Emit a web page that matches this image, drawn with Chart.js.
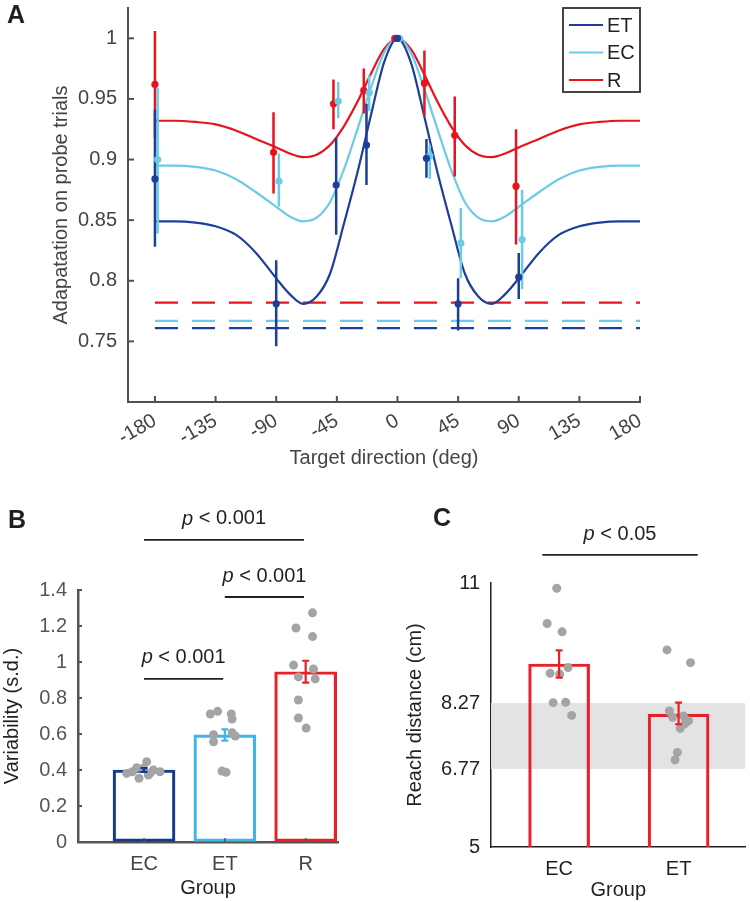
<!DOCTYPE html>
<html>
<head>
<meta charset="utf-8">
<script src="https://cdn.jsdelivr.net/npm/chart.js@4.4.1/dist/chart.umd.min.js"></script>
<style>
  body { margin: 0; background: #fff; }
  #wrap { position: relative; width: 750px; height: 902px; overflow: hidden; background: #fff;
          font-family: "Liberation Sans", Arial, Helvetica, sans-serif; }
  canvas { position: absolute; }
  .panel { position: absolute; font-weight: bold; font-size: 25px; line-height: 25px; color: #231f20; }
</style>
</head>
<body>
<div id="wrap">
  <canvas id="cA" width="660" height="480" style="left:0;top:0"></canvas>
  <canvas id="cB" width="400" height="422" style="left:0;top:480px"></canvas>
  <canvas id="cC" width="350" height="422" style="left:400px;top:480px"></canvas>
  <div class="panel" style="left:7px;top:2px">A</div>
  <div class="panel" style="left:8px;top:507px">B</div>
  <div class="panel" style="left:433px;top:505px">C</div>
</div>
<script>
// ---------------- Panel A data ----------------
const seriesNames = ['ET', 'EC', 'R'];
const xTickValuesA = [-180, -135, -90, -45, 0, 45, 90, 135, 180];
const yTickValuesA = [0.75, 0.8, 0.85, 0.9, 0.95, 1];
const yTickLabelsA = ['0.75', '0.8', '0.85', '0.9', '0.95', '1'];

// fitted tuning curves
const fitDirs = [-180,-165,-150,-135,-120,-105,-90,-80,-70,-60,-50,-40,-30,-20,-10,0,10,20,30,40,50,60,70,80,90,105,120,135,150,165,180];
const etFit = [0.849,0.849,0.848,0.845,0.838,0.823,0.802,0.789,0.781,0.787,0.806,0.846,0.888,0.935,0.980,1.000,0.980,0.935,0.888,0.846,0.806,0.787,0.781,0.789,0.802,0.823,0.838,0.845,0.848,0.849,0.849];
const ecFit = [0.895,0.895,0.894,0.891,0.884,0.873,0.861,0.853,0.849,0.852,0.865,0.891,0.924,0.958,0.988,1.000,0.988,0.958,0.924,0.891,0.865,0.852,0.849,0.853,0.861,0.873,0.884,0.891,0.894,0.895,0.895];
const rFit  = [0.932,0.932,0.931,0.929,0.924,0.917,0.910,0.905,0.902,0.904,0.912,0.927,0.947,0.970,0.991,1.000,0.991,0.970,0.947,0.927,0.912,0.904,0.902,0.905,0.910,0.917,0.924,0.929,0.931,0.932,0.932];

// dashed reference levels (ET, EC, R)
const dashedLevels = [0.761, 0.767, 0.782];

// measured points (x slightly offset per group as in the figure)
const etX    = [-180, -90, -45.5, -23, 0, 21.5, 45, 90];
const etMean = [0.884, 0.781, 0.879, 0.912, 1.000, 0.901, 0.781, 0.803];
const etLo   = [0.828, 0.746, 0.838, 0.879, 1.000, 0.885, 0.759, 0.785];
const etHi   = [0.941, 0.817, 0.918, 0.946, 1.000, 0.917, 0.802, 0.823];

const ecX    = [-178, -88, -44, -21, 1.5, 24, 47, 92.5];
const ecMean = [0.900, 0.882, 0.948, 0.955, 1.000, 0.903, 0.831, 0.834];
const ecLo   = [0.839, 0.861, 0.934, 0.940, 1.000, 0.884, 0.802, 0.793];
const ecHi   = [0.959, 0.905, 0.964, 0.970, 1.000, 0.912, 0.860, 0.875];

const rX     = [-180, -92, -47.5, -25, -2, 20, 42.5, 88];
const rMean  = [0.962, 0.906, 0.946, 0.957, 1.000, 0.963, 0.920, 0.878];
const rLo    = [0.918, 0.872, 0.925, 0.938, 1.000, 0.936, 0.886, 0.830];
const rHi    = [1.006, 0.939, 0.966, 0.975, 1.000, 0.990, 0.952, 0.925];

// ---------------- Panel B data ----------------
const groupsB = ['EC', 'ET', 'R'];
const meanB = [0.40, 0.595, 0.946];
const errLoB = [0.39, 0.563, 0.885];
const errHiB = [0.41, 0.626, 1.007];
const yTickValuesB = [0, 0.2, 0.4, 0.6, 0.8, 1, 1.2, 1.4];
const yTickLabelsB = ['0', '0.2', '0.4', '0.6', '0.8', '1', '1.2', '1.4'];
const dotsBx = [1.033,0.91,0.786,0.938,1.074,1.115,1.198,0.99,0.855,1.053,
                1.82,1.91,2.08,2.09,1.86,1.86,2.13,2.09,1.965,2.015,
                3.085,2.88,3.085,2.85,3.097,2.91,3.118,2.91,2.91,3.006];
const dotsBy = [0.446,0.413,0.381,0.354,0.381,0.40,0.39,0.41,0.39,0.372,
                0.711,0.726,0.711,0.683,0.596,0.557,0.589,0.607,0.394,0.387,
                1.273,1.189,1.141,0.983,0.961,0.917,0.906,0.789,0.689,0.633];
// significance brackets: [from, to, height, text]
const bracketsB = [[1, 2.98, 1.678, '< 0.001'], [2, 2.98, 1.361, '< 0.001'], [1, 1.98, 0.906, '< 0.001']];

// ---------------- Panel C data ----------------
const groupsC = ['EC', 'ET'];
const meanC = [9.16, 8.02];
const errLoC = [8.85, 7.79];
const errHiC = [9.47, 8.28];
const yTickValuesC = [5, 6.77, 8.27, 11];
const yTickLabelsC = ['5', '6.77', '8.27', '11'];
const bandC = [6.77, 8.27];
const dotsCx = [0.98,0.90,1.025,1.075,0.925,1.005,0.95,1.055,1.105,
                1.903,2.10,1.923,1.95,2.04,2.083,2.052,2.014,1.99,1.97];
const dotsCy = [10.88,10.08,9.89,9.08,8.95,8.93,8.28,8.29,7.99,
                9.48,9.19,8.09,7.95,7.98,7.87,7.80,7.70,7.15,6.98];
const bracketsC = [[0.86, 2.16, 11.64, '< 0.05']];

// ---------------- styling ----------------
const FONT = '"Liberation Sans", Arial, Helvetica, sans-serif';
Chart.defaults.font.family = FONT;
Chart.defaults.font.size = 20;
Chart.defaults.animation = false;
Chart.defaults.plugins.legend.display = false;
Chart.defaults.plugins.tooltip.enabled = false;

const C_ET = '#1d3f9b', C_EC = '#6ccbe6', C_R = '#e6141f';
const GRAY_DOT = '#a4a4a4';

function errData(xs, lo, hi, cap) {
  const d = [];
  xs.forEach((x, i) => {
    if (cap) d.push({x: x - cap, y: hi[i]}, {x: x + cap, y: hi[i]}, {x: x, y: null});
    d.push({x: x, y: lo[i]}, {x: x, y: hi[i]}, {x: x, y: null});
    if (cap) d.push({x: x - cap, y: lo[i]}, {x: x + cap, y: lo[i]}, {x: x, y: null});
  });
  return d;
}
const pts = (xs, ys) => xs.map((x, i) => ({x: x, y: ys[i]}));

function makeInward(axes) {
  return {
    id: 'inward' + Math.random().toString(36).slice(2),
    afterDraw(chart) {
      const ctx = chart.ctx, ca = chart.chartArea;
      axes.forEach(a => {
        const s = chart.scales[a.id];
        ctx.save(); ctx.strokeStyle = a.color; ctx.lineWidth = a.width;
        s.ticks.forEach((t, i) => {
          const p = s.getPixelForTick(i);
          ctx.beginPath();
          if (s.isHorizontal()) { ctx.moveTo(p, ca.bottom); ctx.lineTo(p, ca.bottom - a.len); }
          else { ctx.moveTo(ca.left, p); ctx.lineTo(ca.left + a.len, p); }
          ctx.stroke();
        });
        ctx.restore();
      });
    }
  };
}

function makeSig(items, color, lift) {
  return {
    id: 'sig' + Math.random().toString(36).slice(2),
    afterDraw(chart) {
      const ctx = chart.ctx, sx = chart.scales.x, sy = chart.scales.y;
      ctx.save();
      ctx.fillStyle = color; ctx.textBaseline = 'middle';
      items.forEach(b => {
        const cx = (sx.getPixelForValue(b[0]) + sx.getPixelForValue(b[1])) / 2;
        const cy = sy.getPixelForValue(b[2]) - lift;
        ctx.font = 'italic 20px ' + FONT;
        const wp = ctx.measureText('p').width;
        ctx.font = '20px ' + FONT;
        const rest = ' ' + b[3];
        const wr = ctx.measureText(rest).width;
        const x0 = cx - (wp + wr) / 2;
        ctx.textAlign = 'left';
        ctx.font = 'italic 20px ' + FONT;
        ctx.fillText('p', x0, cy);
        ctx.font = '20px ' + FONT;
        ctx.fillText(rest, x0 + wp, cy);
      });
      ctx.restore();
    }
  };
}

const boxLegendA = {
  id: 'boxLegendA',
  afterDraw(chart) {
    const ctx = chart.ctx, ca = chart.chartArea;
    const items = chart.data.datasets.filter(d => d.legendEntry);
    const w = 77, h = 84, x = ca.right - w, y = ca.top;
    ctx.save();
    ctx.fillStyle = '#fff'; ctx.fillRect(x, y, w, h);
    ctx.strokeStyle = '#444'; ctx.lineWidth = 2; ctx.strokeRect(x, y, w, h);
    ctx.font = '20px ' + FONT; ctx.textBaseline = 'middle'; ctx.textAlign = 'left';
    items.forEach((d, i) => {
      const cy = y + 17 + i * 27.5;
      ctx.strokeStyle = d.borderColor; ctx.lineWidth = 2.2;
      ctx.beginPath(); ctx.moveTo(x + 6, cy); ctx.lineTo(x + 40, cy); ctx.stroke();
      ctx.fillStyle = '#231f20';
      ctx.fillText(d.label, x + 44, cy + 1);
    });
    ctx.restore();
  }
};

// ---------------- Chart A ----------------
const colsA = [C_ET, C_EC, C_R];
const fitsA = [etFit, ecFit, rFit];
const xsA = [etX, ecX, rX], meansA = [etMean, ecMean, rMean], losA = [etLo, ecLo, rLo], hisA = [etHi, ecHi, rHi];
const dsA = [];
seriesNames.forEach((n, k) => {
  dsA.push({type: 'line', label: n, legendEntry: true, data: pts(fitDirs, fitsA[k]), borderColor: colsA[k],
            borderWidth: 2.2, pointRadius: 0, cubicInterpolationMode: 'monotone', fill: false, order: 5});
});
seriesNames.forEach((n, k) => {
  dsA.push({type: 'line', label: n + ' level', data: [{x: xTickValuesA[0], y: dashedLevels[k]}, {x: xTickValuesA[xTickValuesA.length - 1], y: dashedLevels[k]}],
            borderColor: colsA[k], borderWidth: 2.2, borderDash: [23, 14], pointRadius: 0, fill: false, order: 6});
});
seriesNames.forEach((n, k) => {
  dsA.push({type: 'line', label: n + ' err', data: errData(xsA[k], losA[k], hisA[k], 0), borderColor: colsA[k],
            borderWidth: 2.5, pointRadius: 0, spanGaps: false, fill: false, order: 2});
  dsA.push({type: 'scatter', label: n + ' mean', data: pts(xsA[k], meansA[k]), backgroundColor: colsA[k],
            pointRadius: 3.6, pointBorderWidth: 0, order: 1});
});

new Chart(document.getElementById('cA'), {
  type: 'line',
  data: {datasets: dsA},
  options: {
    responsive: false, animation: false,
    layout: {padding: {top: 8, right: 20, left: 0, bottom: 0}},
    scales: {
      x: {
        type: 'linear', min: -200, max: 180, offset: false,
        afterBuildTicks: s => { s.ticks = xTickValuesA.map(v => ({value: v})); },
        afterFit: s => { s.height = 78; s.paddingLeft = 0; s.paddingRight = 0; },
        grid: {drawOnChartArea: false, drawTicks: false},
        border: {color: '#505050', width: 2},
        ticks: {color: '#444', padding: 7, maxRotation: 30, minRotation: 30, autoSkip: false,
                callback: (v) => String(v), font: {size: 20}},
        title: {display: true, text: 'Target direction (deg)', color: '#444', font: {size: 20}, padding: {top: 0, bottom: 10}}
      },
      y: {
        type: 'linear', min: 0.7, max: 1.025,
        afterBuildTicks: s => { s.ticks = yTickValuesA.map(v => ({value: v})); },
        afterFit: s => { s.width = 128; s.paddingTop = 0; s.paddingBottom = 0; },
        grid: {drawOnChartArea: false, drawTicks: false},
        border: {color: '#505050', width: 2},
        ticks: {color: '#444', padding: 11, font: {size: 20},
                callback: (v, i) => yTickLabelsA[i]},
        title: {display: true, text: 'Adapatation on probe trials', color: '#444', font: {size: 20}, padding: {top: 49, bottom: 0}}
      }
    }
  },
  plugins: [makeInward([{id: 'x', len: 6, color: '#505050', width: 2}, {id: 'y', len: 6, color: '#505050', width: 2}]), boxLegendA]
});

// ---------------- Chart B ----------------
const colsB = ['#15398c', '#3fb6ea', '#e8202a'];
const dsB = [
  {type: 'bar', label: 'Variability', data: groupsB.map((g, i) => ({x: i + 1, y: meanB[i]})),
   backgroundColor: 'rgba(255,255,255,0)', borderColor: colsB, borderWidth: 2.5, borderSkipped: false,
   barThickness: 62, order: 3},
  {type: 'scatter', label: 'subjects', data: pts(dotsBx, dotsBy), backgroundColor: GRAY_DOT,
   pointRadius: 4.5, pointBorderWidth: 0, order: 2}
];
groupsB.forEach((g, i) => {
  dsB.push({type: 'line', label: g + ' sem', data: errData([i + 1], [errLoB[i]], [errHiB[i]], 0.043),
            borderColor: colsB[i], borderWidth: 2.2, pointRadius: 0, spanGaps: false, fill: false, order: 1});
});
bracketsB.forEach((b, i) => {
  dsB.push({type: 'line', label: 'bracket' + i, data: [{x: b[0], y: b[2]}, {x: b[1], y: b[2]}],
            borderColor: '#231f20', borderWidth: 1.8, pointRadius: 0, fill: false, clip: false, order: 0});
});

new Chart(document.getElementById('cB'), {
  type: 'bar',
  data: {datasets: dsB},
  options: {
    responsive: false, animation: false,
    layout: {padding: {top: 110, right: 62, left: 0, bottom: 0}},
    scales: {
      x: {
        type: 'linear', min: 0.183, max: 3.40, offset: false,
        afterBuildTicks: s => { s.ticks = groupsB.map((g, i) => ({value: i + 1})); },
        afterFit: s => { s.height = 60; },
        grid: {drawOnChartArea: false, drawTicks: false},
        border: {color: '#555', width: 2.5},
        ticks: {color: '#444', padding: 10, maxRotation: 0, autoSkip: false, font: {size: 20},
                callback: (v, i) => groupsB[i]},
        title: {display: true, text: 'Group', color: '#231f20', font: {size: 20}, padding: {top: 0, bottom: 2}}
      },
      y: {
        type: 'linear', min: 0, max: 1.4,
        afterBuildTicks: s => { s.ticks = yTickValuesB.map(v => ({value: v})); },
        afterFit: s => { s.width = 78; },
        grid: {drawOnChartArea: false, drawTicks: false},
        border: {color: '#555', width: 2.5},
        ticks: {color: '#555', padding: 11, font: {size: 20}, callback: (v, i) => yTickLabelsB[i]},
        title: {display: true, text: 'Variability (s.d.)', color: '#231f20', font: {size: 20}, padding: {top: 0, bottom: 0}}
      }
    }
  },
  plugins: [makeInward([{id: 'y', len: 4, color: '#555', width: 2}, {id: 'x', len: 4, color: '#555', width: 1.5}]),
            makeSig(bracketsB, '#231f20', 21)]
});

// ---------------- Chart C ----------------
const xMinC = 0.43, xMaxC = 2.56;
const dsC = [
  {type: 'line', label: 'range', data: [{x: xMinC, y: bandC[1]}, {x: xMaxC, y: bandC[1]}],
   borderWidth: 0, borderColor: 'rgba(0,0,0,0)', pointRadius: 0, backgroundColor: '#e3e3e3',
   fill: {value: bandC[0]}, order: 5},
  {type: 'bar', label: 'Reach distance', data: groupsC.map((g, i) => ({x: i + 1, y: meanC[i]})),
   backgroundColor: 'rgba(255,255,255,0)', borderColor: '#e8202a', borderWidth: 2.5, borderSkipped: false,
   barThickness: 61, order: 3},
  {type: 'scatter', label: 'subjects', data: pts(dotsCx, dotsCy), backgroundColor: GRAY_DOT,
   pointRadius: 4.5, pointBorderWidth: 0, order: 2},
  {type: 'line', label: 'sem', data: errData(groupsC.map((g, i) => i + 1), errLoC, errHiC, 0.029),
   borderColor: '#e8202a', borderWidth: 2.2, pointRadius: 0, spanGaps: false, fill: false, order: 1}
];
bracketsC.forEach((b, i) => {
  dsC.push({type: 'line', label: 'bracket' + i, data: [{x: b[0], y: b[2]}, {x: b[1], y: b[2]}],
            borderColor: '#231f20', borderWidth: 1.8, pointRadius: 0, fill: false, clip: false, order: 0});
});

new Chart(document.getElementById('cC'), {
  type: 'bar',
  data: {datasets: dsC},
  options: {
    responsive: false, animation: false,
    layout: {padding: {top: 103, right: 1, left: 0, bottom: 0}},
    scales: {
      x: {
        type: 'linear', min: xMinC, max: xMaxC, offset: false,
        afterBuildTicks: s => { s.ticks = groupsC.map((g, i) => ({value: i + 1})); },
        afterFit: s => { s.height = 55; },
        grid: {drawOnChartArea: false, drawTicks: false},
        border: {color: '#231f20', width: 1.5},
        ticks: {color: '#231f20', padding: 10, maxRotation: 0, autoSkip: false, font: {size: 20},
                callback: (v, i) => groupsC[i]},
        title: {display: true, text: 'Group', color: '#231f20', font: {size: 20}, padding: {top: 0, bottom: 0}}
      },
      y: {
        type: 'linear', min: 5, max: 11,
        afterBuildTicks: s => { s.ticks = yTickValuesC.map(v => ({value: v})); },
        afterFit: s => { s.width = 91; },
        grid: {drawOnChartArea: false, drawTicks: false},
        border: {color: '#231f20', width: 1.5},
        ticks: {color: '#231f20', padding: 11, font: {size: 20}, callback: (v, i) => yTickLabelsC[i]},
        title: {display: true, text: 'Reach distance (cm)', color: '#231f20', font: {size: 20}, padding: {top: 3, bottom: 0}}
      }
    }
  },
  plugins: [makeSig(bracketsC, '#231f20', 20)]
});
</script>
</body>
</html>
